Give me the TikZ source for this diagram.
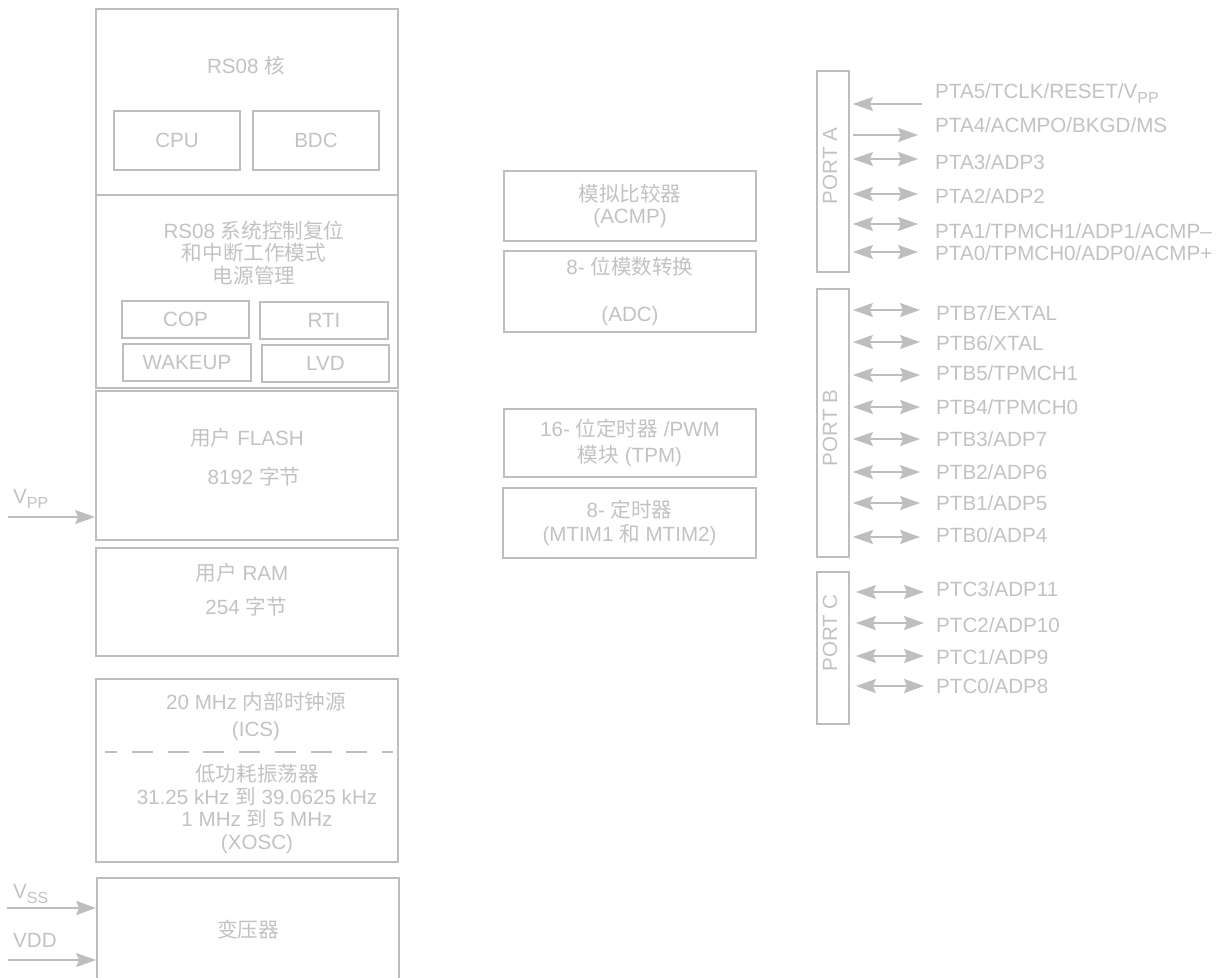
\documentclass[tikz,border=0pt]{standalone}
\usepackage{fontspec}
\setmainfont{Liberation Sans}
\newfontfamily\cjkfont{Noto Sans CJK SC}
\newcommand{\zh}[1]{{\cjkfont #1}}
\newcommand{\pinsub}[1]{\raisebox{-5pt}{\fontsize{16}{16}\selectfont #1}}
\usetikzlibrary{arrows.meta}
\definecolor{linegray}{RGB}{190,190,190}
\definecolor{textgray}{RGB}{194,194,194}
\tikzset{
  lbl/.style={text=textgray, font=\fontsize{20.6}{22.5}\selectfont, inner sep=0pt, align=center},
  blk/.style={lbl, draw=linegray, line width=1.8pt},
  pin/.style={lbl, anchor=west},
  sig/.style={draw=linegray, line width=1.8pt},
}

\begin{document}
\begin{tikzpicture}[x=1pt, y=-1pt, >={Stealth[length=20pt,width=14pt,inset=3pt]}]
    \useasboundingbox (0,0) rectangle (1225,977);
    % RS08 core
    \node[blk, minimum width=302, minimum height=186] (core) at (247,102) {};
    \node[lbl] (coretxt) at (246,66) {RS08 \zh{核}};
    \node[blk, minimum width=126, minimum height=59] (cpu) at (177,140.5) {CPU};
    \node[blk, minimum width=126, minimum height=59] (bdc) at (316,140.5) {BDC};
    % System control
    \node[blk, minimum width=302, minimum height=193] (sysctl) at (247,291.5) {};
    \node[lbl] (systxt) at (254,253) {RS08 \zh{系统控制复位}\\\zh{和中断工作模式}\\\zh{电源管理}};
    \node[blk, minimum width=127, minimum height=37] (cop) at (185.5,319.5) {COP};
    \node[blk, minimum width=128, minimum height=37] (rti) at (324,320.5) {RTI};
    \node[blk, minimum width=128, minimum height=37] (wakeup) at (187,362.5) {WAKEUP};
    \node[blk, minimum width=127, minimum height=37] (lvd) at (325.5,363.5) {LVD};
    % Flash
    \node[blk, minimum width=302, minimum height=149] (flash) at (247,465.5) {};
    \node[lbl] (flashtxt) at (247,438) {\zh{用户} FLASH};
    \node[lbl] (flashsize) at (254,477) {8192 \zh{字节}};
    % RAM
    \node[blk, minimum width=302, minimum height=108] (ram) at (247,602) {};
    \node[lbl] (ramtxt) at (242,573) {\zh{用户} RAM};
    \node[lbl] (ramsize) at (246,607) {254 \zh{字节}};
    % Clock sources
    \node[blk, minimum width=302, minimum height=183] (clock) at (247,770.5) {};
    \node[lbl] (icstxt) at (256,716.5) {20 MHz \zh{内部时钟源}\\[4.5pt](ICS)};
    \draw[sig, dash pattern=on 21pt off 14.7pt, dash phase=8.7pt] (105,752) -- (393,752);
    \node[lbl] (osctxt) at (257,809) {\zh{低功耗振荡器}\\31.25 kHz \zh{到} 39.0625 kHz\\1 MHz \zh{到} 5 MHz\\(XOSC)};
    % Regulator
    \node[blk, minimum width=302, minimum height=104] (reg) at (248,930) {\zh{变压器}};
    % Supply pins
    \coordinate (vppin) at (8,517);
    \draw[sig, ->] (vppin) -- (vppin -| flash.west);
    \node[lbl, anchor=west] (vpptxt) at (13,499) {V\pinsub{PP}};
    \coordinate (vssin) at (7,908);
    \draw[sig, ->] (vssin) -- (vssin -| reg.west);
    \node[lbl, anchor=west] (vsstxt) at (13,894) {V\pinsub{SS}};
    \coordinate (vddin) at (8,960);
    \draw[sig, ->] (vddin) -- (vddin -| reg.west);
    \node[lbl, anchor=west] (vddtxt) at (13,940) {VDD};
    % Peripherals
    \node[blk, minimum width=252, minimum height=70] (acmp) at (630,206) {\zh{模拟比较器}\\(ACMP)};
    \node[blk, minimum width=252, minimum height=81] (adc) at (630,291.5) {8- \zh{位模数转换}\\[24pt](ADC)};
    \node[blk, minimum width=252, minimum height=68] (tpm) at (630,443) {16- \zh{位定时器} /PWM\\[4pt]\zh{模块} (TPM)};
    \node[blk, minimum width=253, minimum height=70] (mtim) at (629.5,523) {8- \zh{定时器}\\[1.5pt](MTIM1 \zh{和} MTIM2)};
    % Port A
    \node[blk, minimum width=32, minimum height=201] (porta) at (833,171.5) {};
    \node[lbl, rotate=90] (portatxt) at (830,166) {PORT A};
    \node[pin] (pta5) at (935,94) {PTA5/TCLK/RESET/V\pinsub{PP}};
    \coordinate (a5) at (922,104);
    \draw[sig, <-] ([xshift=3pt]porta.east |- a5) -- (a5);
    \node[pin] (pta4) at (935,125) {PTA4/ACMPO/BKGD/MS};
    \coordinate (a4) at (918,135);
    \draw[sig, ->] ([xshift=3pt]porta.east |- a4) -- (a4);
    \foreach \n/\ya/\yt/\txt in {3/159/162/{PTA3/ADP3}, 2/194/196/{PTA2/ADP2},
        1/224/231/{PTA1/TPMCH1/ADP1/ACMP–}, 0/252/253/{PTA0/TPMCH0/ADP0/ACMP+}} {
        \node[pin] (pta\n) at (935,\yt) {\txt};
        \coordinate (a\n) at (918,\ya);
        \draw[sig, <->] ([xshift=3pt]porta.east |- a\n) -- (a\n);
    }
    % Port B
    \node[blk, minimum width=32, minimum height=268] (portb) at (833,423) {};
    \node[lbl, rotate=90] (portbtxt) at (830,428) {PORT B};
    \foreach \n/\ya/\yt/\txt in {7/310/313/{PTB7/EXTAL}, 6/342/343/{PTB6/XTAL},
        5/375/373/{PTB5/TPMCH1}, 4/407/407/{PTB4/TPMCH0}, 3/439/439/{PTB3/ADP7},
        2/472/472/{PTB2/ADP6}, 1/503/503/{PTB1/ADP5}, 0/537/535/{PTB0/ADP4}} {
        \node[pin] (ptb\n) at (936,\yt) {\txt};
        \coordinate (b\n) at (920,\ya);
        \draw[sig, <->] ([xshift=3pt]portb.east |- b\n) -- (b\n);
    }
    % Port C
    \node[blk, minimum width=32, minimum height=152] (portc) at (833,648) {};
    \node[lbl, rotate=90] (portctxt) at (830,633) {PORT C};
    \foreach \n/\ya/\yt/\txt in {3/592/589/{PTC3/ADP11}, 2/623/625/{PTC2/ADP10},
        1/656/657/{PTC1/ADP9}, 0/686/686/{PTC0/ADP8}} {
        \node[pin] (ptc\n) at (936,\yt) {\txt};
        \coordinate (c\n) at (924,\ya);
        \draw[sig, <->] ([xshift=6pt]portc.east |- c\n) -- (c\n);
    }
\end{tikzpicture}
\end{document}
